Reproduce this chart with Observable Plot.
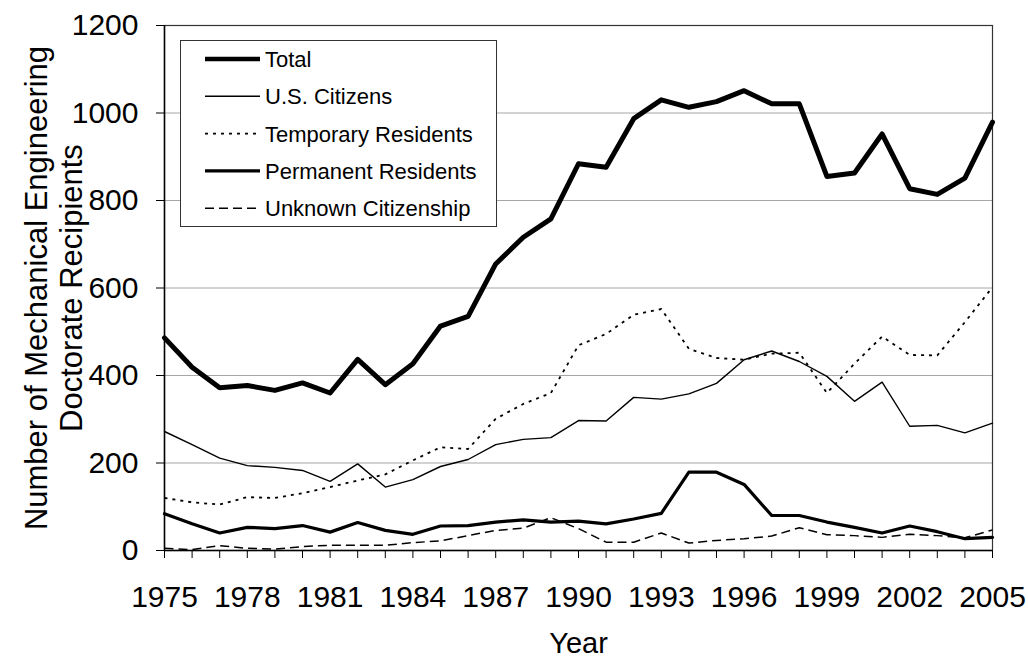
<!DOCTYPE html>
<html><head><meta charset="utf-8">
<script src="https://cdn.jsdelivr.net/npm/d3@7"></script>
<script src="https://cdn.jsdelivr.net/npm/@observablehq/plot@0.6"></script>
<style>
body{margin:0;background:#fff;}
#wrap{position:relative;width:1028px;height:660px;font-family:"Liberation Sans",Arial,sans-serif;}
#legend{position:absolute;left:180px;top:40px;}
</style></head><body><div id="wrap"><div id="chart"></div><div id="legend"></div></div>
<script>
const years = [1975,1976,1977,1978,1979,1980,1981,1982,1983,1984,1985,1986,1987,1988,1989,1990,1991,1992,1993,1994,1995,1996,1997,1998,1999,2000,2001,2002,2003,2004,2005];
const total = [486,419,372,377,366,383,360,437,379,427,513,535,655,716,758,884,876,987,1030,1013,1026,1051,1021,1021,855,863,952,827,814,851,979];
const usCitizens = [272,242,211,194,190,183,158,198,145,162,192,208,242,254,258,297,296,350,346,358,382,436,456,432,398,341,385,284,286,269,291];
const temporary = [120,110,105,122,120,131,145,160,174,206,236,232,301,335,360,469,495,539,552,461,440,436,450,452,360,427,489,447,446,522,602];
const permanent = [84,61,40,53,50,57,42,64,46,37,56,57,65,70,65,67,61,72,85,179,179,151,80,80,65,53,40,56,43,27,30];
const unknown = [5,2,11,5,3,9,12,12,12,18,22,34,46,51,75,50,19,19,40,17,23,27,33,52,36,34,30,37,34,29,47];
const seriesNames = ["Total","U.S. Citizens","Temporary Residents","Permanent Residents","Unknown Citizenship"];
const yTicks = [0,200,400,600,800,1000,1200];
const xLabelYears = [1975,1978,1981,1984,1987,1990,1993,1996,1999,2002,2005];

const seriesValues = [total, usCitizens, temporary, permanent, unknown];
const styles = {
  "Total": {strokeWidth: 5, dash: null, cap: "round"},
  "U.S. Citizens": {strokeWidth: 1.4, dash: null, cap: "round"},
  "Temporary Residents": {strokeWidth: 1.8, dash: "3,5", cap: "butt"},
  "Permanent Residents": {strokeWidth: 3.2, dash: null, cap: "round"},
  "Unknown Citizenship": {strokeWidth: 1.5, dash: "9,5", cap: "butt"}
};
const rows = [];
seriesNames.forEach((s, i) => years.forEach((yr, j) => rows.push({series: s, year: yr, value: seriesValues[i][j]})));

const drawOrder = ["Unknown Citizenship","Permanent Residents","Temporary Residents","U.S. Citizens","Total"];
const font = '"Liberation Sans", Arial, sans-serif';

const chart = Plot.plot({
  width: 1028, height: 660,
  marginLeft: 164, marginRight: 36, marginTop: 25, marginBottom: 110,
  style: {fontFamily: font, fontSize: "30px", color: "black", background: "white"},
  x: {domain: [1975, 2005]},
  y: {domain: [0, 1200]},
  marks: [
    Plot.gridY([200,400,600,800,1000], {stroke: "#a6a6a6", strokeOpacity: 1, strokeWidth: 1}),
    Plot.frame({stroke: "#333", strokeWidth: 1.2}),
    ...drawOrder.map(s => Plot.line(rows.filter(r => r.series === s), {
      x: "year", y: "value", stroke: "black",
      strokeWidth: styles[s].strokeWidth,
      strokeDasharray: styles[s].dash,
      strokeLinecap: styles[s].cap,
      strokeLinejoin: "round"
    })),
    Plot.ruleY([0], {stroke: "black", strokeWidth: 1.5}),
    Plot.ruleX([1975], {stroke: "black", strokeWidth: 1.5}),
    Plot.axisY({ticks: yTicks, tickSize: 8, tickPadding: 18, label: null, tickFormat: d => String(d), stroke: "black"}),
    Plot.axisX({ticks: years, tickSize: 8, tickPadding: 27, label: null,
      tickFormat: d => xLabelYears.includes(d) ? String(d) : "", stroke: "black"}),
    Plot.text(["Year"], {frameAnchor: "bottom", dy: 93, fontSize: 29, lineAnchor: "middle"}),
    Plot.text(["Number of Mechanical Engineering\nDoctorate Recipients"], {
      frameAnchor: "left", rotate: -90, dx: -111, fontSize: 31, lineHeight: 1.13, textAnchor: "middle", lineAnchor: "middle"
    })
  ]
});
document.getElementById("chart").appendChild(chart);

// Legend
const lg = d3.select("#legend").append("svg").attr("width", 318).attr("height", 188)
  .style("font-family", font);
lg.append("rect").attr("x", 0.5).attr("y", 0.5).attr("width", 316).attr("height", 186)
  .attr("fill", "white").attr("stroke", "#333").attr("stroke-width", 1);
seriesNames.forEach((s, i) => {
  const cy = 19 + i * 37.3;
  lg.append("line").attr("x1", 25).attr("x2", 80).attr("y1", cy).attr("y2", cy)
    .attr("stroke", "black").attr("stroke-width", Math.min(styles[s].strokeWidth, 4.5))
    .attr("stroke-dasharray", styles[s].dash).attr("stroke-linecap", "butt");
  lg.append("text").attr("x", 85).attr("y", cy).attr("dy", "0.36em")
    .attr("font-size", 22).attr("fill", "black").text(s);
});
</script></body></html>
